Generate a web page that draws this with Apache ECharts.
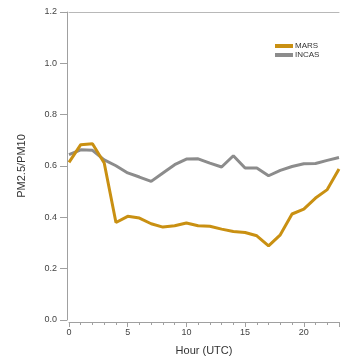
<!DOCTYPE html>
<html>
<head>
<meta charset="utf-8">
<script src="https://cdn.jsdelivr.net/npm/echarts@6/dist/echarts.min.js"></script>
<style>
html,body{margin:0;padding:0;background:#fff;}
#c{width:342px;height:362px;}
</style>
</head>
<body>
<div id="c"></div>
<script>
const hours = [0,1,2,3,4,5,6,7,8,9,10,11,12,13,14,15,16,17,18,19,20,21,22,23];
const mars = [0.614,0.683,0.687,0.612,0.380,0.404,0.397,0.375,0.362,0.367,0.378,0.367,0.365,0.354,0.345,0.341,0.328,0.289,0.332,0.413,0.432,0.475,0.508,0.588];
const incas = [0.644,0.663,0.661,0.624,0.601,0.573,0.557,0.540,0.573,0.605,0.627,0.628,0.611,0.596,0.640,0.592,0.592,0.562,0.583,0.598,0.609,0.610,0.622,0.633];
const seriesNames = ['MARS','INCAS'];
const yTicks = [0.0,0.2,0.4,0.6,0.8,1.0,1.2];

const MARS_COLOR = '#C99012';
const INCAS_COLOR = '#8C8C8C';
const AXIS_COLOR = '#A0A0A0';
const FONT = 'Liberation Sans, Arial, sans-serif';

const chart = echarts.init(document.getElementById('c'), null, {renderer:'canvas'});
chart.setOption({
  animation:false,
  backgroundColor:'#fff',
  grid:{left:69, right:0, top:12, bottom:42, containLabel:false},
  legend:{
    orient:'vertical', left:270, top:37,
    itemWidth:18, itemHeight:4, itemGap:1,
    textStyle:{fontFamily:FONT, fontSize:8, color:'#333', padding:[0,0,0,-3]},
    data:[{name:seriesNames[0], icon:'rect'},{name:seriesNames[1], icon:'rect'}]
  },
  xAxis:[{
    type:'value', min:0, max:23, interval:5, offset:2,
    name:'Hour (UTC)', nameLocation:'middle', nameGap:23,
    nameTextStyle:{fontFamily:FONT, fontSize:11, color:'#333'},
    axisLine:{show:true, onZero:false, lineStyle:{color:AXIS_COLOR, width:1}},
    axisTick:{show:true, length:5, lineStyle:{color:AXIS_COLOR}},
    minorTick:{show:true, splitNumber:5, length:3, lineStyle:{color:AXIS_COLOR}},
    axisLabel:{fontFamily:FONT, fontSize:9, color:'#444', margin:6,
      formatter:function(v){return (v%5===0 && v<=20)?String(v):'';}},
    splitLine:{show:false}
  },{
    type:'value', position:'top', min:0, max:23,
    axisLine:{show:true, onZero:false, lineStyle:{color:'#B8B8B8', width:1}},
    axisTick:{show:false}, axisLabel:{show:false}, splitLine:{show:false}
  }],
  yAxis:{
    type:'value', min:0, max:1.2, interval:0.2, offset:2,
    name:'PM2.5/PM10', nameLocation:'middle', nameGap:40, nameRotate:90,
    nameTextStyle:{fontFamily:FONT, fontSize:11, color:'#333'},
    axisLine:{show:true, onZero:false, lineStyle:{color:AXIS_COLOR, width:1}},
    axisTick:{show:true, length:7, lineStyle:{color:AXIS_COLOR}},
    axisLabel:{fontFamily:FONT, fontSize:9, color:'#444', margin:10,
      formatter:function(v){return v.toFixed(1);}},
    splitLine:{show:false}
  },
  series:[
    {name:seriesNames[0], type:'line', data:hours.map((h,i)=>[h,mars[i]]),
     showSymbol:false, lineStyle:{color:MARS_COLOR, width:3}, itemStyle:{color:MARS_COLOR}, z:3},
    {name:seriesNames[1], type:'line', data:hours.map((h,i)=>[h,incas[i]]),
     showSymbol:false, lineStyle:{color:INCAS_COLOR, width:3}, itemStyle:{color:INCAS_COLOR}, z:2}
  ]
});
</script>
</body>
</html>
